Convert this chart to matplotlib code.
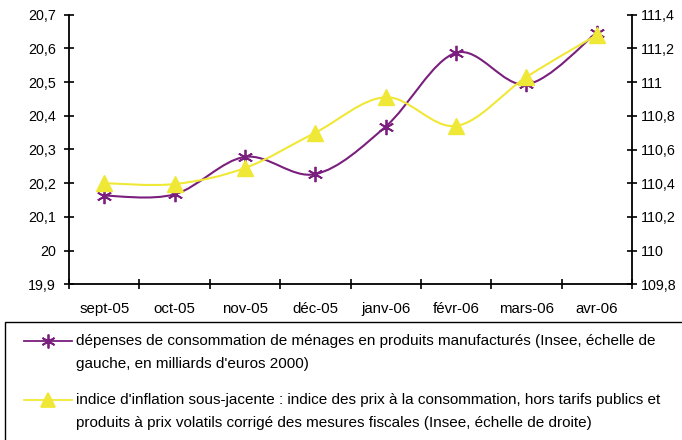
import numpy as np
import matplotlib.pyplot as plt
from matplotlib.path import Path
from matplotlib.patches import PathPatch, Rectangle
from matplotlib.lines import Line2D

plt.rcParams['font.family'] = ['Liberation Sans', 'DejaVu Sans']

# --- DONNEES ---
mois = ["sept-05", "oct-05", "nov-05", "déc-05", "janv-06", "févr-06", "mars-06", "avr-06"]
depenses = [20.163, 20.167, 20.278, 20.227, 20.368, 20.587, 20.493, 20.647]        # échelle de gauche
inflation = [110.40, 110.395, 110.49, 110.70, 110.91, 110.74, 111.03, 111.28]     # échelle de droite

ticks_gauche = [19.9, 20.0, 20.1, 20.2, 20.3, 20.4, 20.5, 20.6, 20.7]
labels_gauche = ["19,9", "20", "20,1", "20,2", "20,3", "20,4", "20,5", "20,6", "20,7"]
ticks_droite = [109.8, 110.0, 110.2, 110.4, 110.6, 110.8, 111.0, 111.2, 111.4]
labels_droite = ["109,8", "110", "110,2", "110,4", "110,6", "110,8", "111", "111,2", "111,4"]

leg1 = ("dépenses de consommation de ménages en produits manufacturés (Insee, échelle de",
        "gauche, en milliards d'euros 2000)")
leg2 = ("indice d'inflation sous-jacente : indice des prix à la consommation, hors tarifs publics et",
        "produits à prix volatils corrigé des mesures fiscales (Insee, échelle de droite)")

VIOLET = "#7A1F7D"
JAUNE = "#F0E836"


def courbe_lissee(ax, xs, ys, color, lw):
    """Courbe lissée façon Excel (Bezier type Catmull-Rom) en coordonnées données."""
    pts = np.column_stack([xs, ys]).astype(float)
    n = len(pts)
    verts = [pts[0]]
    codes = [Path.MOVETO]
    for i in range(n - 1):
        p0 = pts[i - 1] if i > 0 else pts[i]
        p1, p2 = pts[i], pts[i + 1]
        p3 = pts[i + 2] if i + 2 < n else pts[i + 1]
        c1 = p1 + (p2 - p0) / 6
        c2 = p2 - (p3 - p1) / 6
        verts += [c1, c2, p2]
        codes += [Path.CURVE4] * 3
    ax.add_patch(PathPatch(Path(verts, codes), facecolor='none', edgecolor=color,
                           lw=lw, transform=ax.transData, zorder=2))


fig = plt.figure(figsize=(6.82, 4.40), dpi=100)
W, H = 682, 440
ax = fig.add_axes([69 / W, (H - 284.3) / H, (632 - 69) / W, (284.3 - 14.7) / H])
ax2 = ax.twinx()

x = np.arange(len(mois))

courbe_lissee(ax, x, depenses, VIOLET, 1.5)
ax.plot(x, depenses, linestyle='none', marker=(6, 2, 0), markersize=11,
        markeredgecolor=VIOLET, markeredgewidth=1.3, zorder=3)

courbe_lissee(ax2, x, inflation, JAUNE, 1.5)
ax2.plot(x, inflation, linestyle='none', marker='^', markersize=11,
         color=JAUNE, markeredgecolor=JAUNE, zorder=3)

ax.set_xlim(-0.5, len(mois) - 0.5)
ax.set_ylim(19.9, 20.7)
ax2.set_ylim(109.8, 111.4)

ax.set_yticks(ticks_gauche)
ax.set_yticklabels(labels_gauche)
ax2.set_yticks(ticks_droite)
ax2.set_yticklabels(labels_droite)

ax.set_xticks(x)
ax.set_xticklabels(mois)
ax.set_xticks(np.arange(-0.5, len(mois)), minor=True)
ax.tick_params(axis='x', which='major', length=0, pad=13, labelsize=10.8)
ax.tick_params(axis='x', which='minor', direction='inout', length=7, width=1.2)
ax.tick_params(axis='y', direction='inout', length=7, width=1.2, pad=6, labelsize=10.3)
ax2.tick_params(axis='y', direction='inout', length=7, width=1.2, pad=3, labelsize=10.3)

for a in (ax, ax2):
    a.spines['top'].set_visible(False)
    for s in ('left', 'right', 'bottom'):
        a.spines[s].set_linewidth(1.3)
ax.spines['right'].set_visible(False)
ax2.spines['left'].set_visible(False)
ax2.spines['bottom'].set_visible(False)

# --- LEGENDE (cadre coupé par le bord) ---
fig.patches.append(Rectangle((5 / W, -0.1), 1.0, (H - 322) / H + 0.1, transform=fig.transFigure,
                             facecolor='white', edgecolor='black', lw=1.0))

def ligne_legende(y_px, color, marker, ms, textes):
    yf = (H - y_px) / H
    fig.add_artist(Line2D([24 / W, 72 / W], [yf, yf], color=color, lw=1.3,
                          transform=fig.transFigure))
    fig.add_artist(Line2D([48 / W], [yf], linestyle='none', marker=marker, markersize=ms,
                          color=color, markeredgecolor=color, markeredgewidth=1.3,
                          transform=fig.transFigure))
    for k, t in enumerate(textes):
        fig.text(76 / W, (H - y_px - 22.5 * k) / H, t, fontsize=11, va='center', ha='left')

ligne_legende(341, VIOLET, (6, 2, 0), 10, leg1)
ligne_legende(400, JAUNE, '^', 10, leg2)

fig.savefig("out.png", dpi=100)
